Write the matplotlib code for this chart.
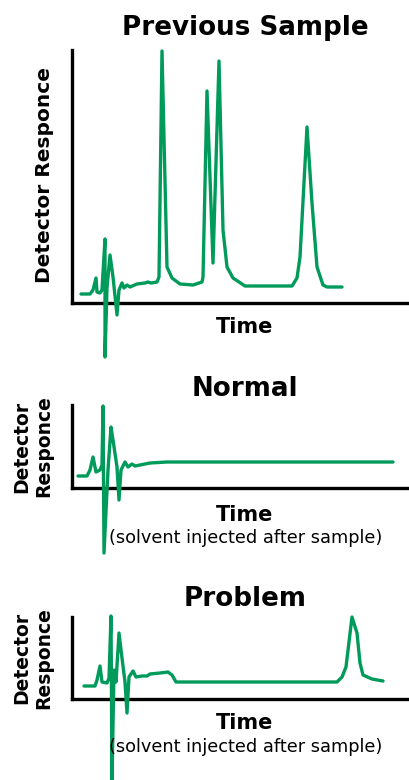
import matplotlib
matplotlib.use("Agg")
import matplotlib.pyplot as plt

W, H = 410, 780
GREEN = "#009B5A"

# --- chromatogram traces (time, detector response), arbitrary units ---
prev_time = [9, 18, 21, 24, 25, 28, 30, 33, 33, 35, 38, 41, 45, 47, 50, 52, 55, 58, 65, 73,
             76, 79, 85, 87, 90, 95, 100, 108, 121, 130, 131, 135, 141, 147, 151, 155, 161,
             173, 220, 225, 228, 235, 240, 245, 251, 255, 270]
prev_resp = [9, 9, 13, 25, 11, 10, 13, 64, -54, 15, 48, 26, -12, 13, 20, 15, 18, 16, 19, 20,
             21, 20, 21, 26, 252, 36, 25, 19, 18, 21, 26, 212, 40, 242, 73, 36, 25,
             17, 17, 25, 46, 176, 100, 36, 18, 16, 16]

normal_time = [6, 15, 18, 21, 24, 28, 30, 31, 32, 36, 39, 41, 45, 47, 49, 53, 56, 60, 63, 68,
               78, 95, 321]
normal_resp = [12, 12, 18, 31, 16, 18, 23, 82, -65, 18, 61, 48, 21, -12, 18, 26, 21, 24, 22, 23,
               25, 26, 26]

problem_time = [12, 23, 25, 28, 30, 35, 37, 39, 40, 42, 44, 47, 50, 53, 55, 57, 61, 64, 70, 75,
                78, 88, 96, 100, 104, 265, 270, 274, 280, 285, 288, 291, 300, 311]
problem_resp = [13, 13, 19, 33, 17, 16, 21, 83, -81, 29, 17, 66, 41, 17, -14, 22, 28, 22, 23, 23,
                25, 26, 27, 24, 17, 17, 22, 32, 82, 66, 36, 24, 20, 18]

panels = [
    # (top px, bottom px, title, two-line ylabel, subtitle, time, response)
    (50, 303, "Previous Sample", False, None, prev_time, prev_resp),
    (405, 488, "Normal", True, "(solvent injected after sample)", normal_time, normal_resp),
    (617, 699, "Problem", True, "(solvent injected after sample)", problem_time, problem_resp),
]

fig = plt.figure(figsize=(W / 100, H / 100), dpi=100)
plt.rcParams["font.family"] = ["DejaVu Sans"]

AX_LEFT = 72
AX_RIGHT = 410


def fx(px):
    return px / W


def fy(py):
    return 1 - py / H


title_base = [35, 396, 606]
time_base = [333, 521, 729]
sub_center = [None, 538, 747]

for i, (top, bot, title, two_line, sub, t, r) in enumerate(panels):
    ax = fig.add_axes([fx(AX_LEFT), fy(bot), fx(AX_RIGHT - AX_LEFT), (bot - top) / H])
    ax.set_xlim(0, AX_RIGHT - AX_LEFT)
    ax.set_ylim(0, bot - top)
    ax.plot(t, r, color=GREEN, lw=2.4, clip_on=False, solid_joinstyle="round",
            solid_capstyle="round", zorder=3)
    for s in ("top", "right"):
        ax.spines[s].set_visible(False)
    for s in ("left", "bottom"):
        ax.spines[s].set_linewidth(2.4)
        ax.spines[s].set_color("black")
    ax.set_xticks([])
    ax.set_yticks([])
    ax.patch.set_alpha(0)

    fig.text(fx(245), fy(title_base[i]), title, ha="center", va="baseline",
             fontsize=18.8, fontweight="bold")
    fig.text(fx(245), fy(time_base[i]), "Time", ha="center", va="baseline",
             fontsize=15, fontweight="bold")
    if sub:
        fig.text(fx(246), fy(sub_center[i]), sub, ha="center", va="center",
                 fontsize=12.8)
    ymid = (top + bot) / 2
    if two_line:
        fig.text(fx(33), fy(ymid), "Detector\nResponce", ha="center", va="center",
                 rotation=90, fontsize=13.5, fontweight="bold", linespacing=1.2)
    else:
        fig.text(fx(45), fy(175), "Detector Responce", ha="center", va="center",
                 rotation=90, fontsize=14.5, fontweight="bold")

fig.savefig("out.png", dpi=100)
